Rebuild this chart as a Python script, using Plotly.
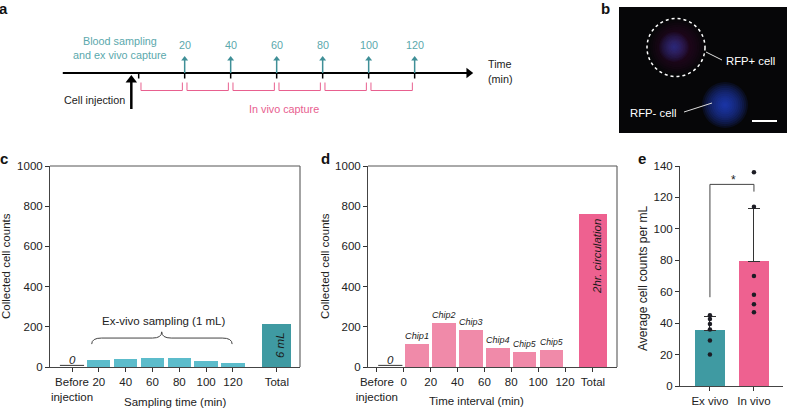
import plotly.graph_objects as go

W, H = 788, 408
FONT = "Liberation Sans"
TXT = "#222222"
TEAL_L, TEAL_D = "#5cbccb", "#3f9aa2"
PINK_L, PINK_D = "#f08aa9", "#ee6190"
TEAL_T = "#5aa8ac"
PINK_T = "#e8608f"

# panel a
capture_times = [20, 40, 60, 80, 100, 120]
interval_starts = [0, 20, 40, 60, 80, 100]
# panel c
c_before = 8
c_times = [20, 40, 60, 80, 100, 120]
c_values = [36, 40, 45, 43, 30, 20]
c_total_pos = 152.7
c_total = 212
c_ticktext = ["Before<br>injection", "20", "40", "60", "80", "100", "120", "Total"]
# panel d
d_before = 8
d_mid = [10, 30, 50, 70, 90, 110]
d_values = [114, 218, 182, 94, 76, 84]
d_labels = ["Chip1", "Chip2", "Chip3", "Chip4", "Chip5", "Chip5"]
d_total_pos = 140.8
d_total = 762
d_tickvals = [-20, 0, 20, 40, 60, 80, 100, 120, 140.8]
d_ticktext = ["Before<br>injection", "0", "20", "40", "60", "80", "100", "120", "Total"]
# panel e
e_groups = ["Ex vivo", "In vivo"]
e_means = [35.4, 79.3]
e_err = [8.6, 33.7]
e_ex_points = [20, 29, 36, 39.5, 42.6, 45]
e_in_points = [47, 52, 58, 70, 114, 136]


def dx(a, b):
    return [a / W, b / W]


def dy(top, bottom):
    return [1 - bottom / H, 1 - top / H]


fig = go.Figure()
anns = []
shapes = []


def T(text, x, y, xref="paper", yref="paper", size=11.5, color=TXT, **kw):
    if xref == "paper":
        x = x / W
    if yref == "paper":
        y = 1 - y / H
    anns.append(dict(text=text, x=x, y=y, xref=xref, yref=yref, showarrow=False,
                     font=dict(family=kw.pop("family", FONT), size=size, color=color,
                               style=kw.pop("style", "normal"), weight=kw.pop("weight", "normal")),
                     xanchor=kw.pop("xanchor", "center"), yanchor=kw.pop("yanchor", "middle"), **kw))


AX = dict(showgrid=False, zeroline=False, ticks="outside", ticklen=4, tickwidth=1,
          tickcolor="#333333", linecolor="#444444", linewidth=1, showline=True, automargin=False,
          tickangle=0, tickfont=dict(family=FONT, size=11.5, color=TXT))

# ------ panel c
fig.add_bar(x=c_times, y=c_values, width=17.4, marker=dict(color=TEAL_L, line_width=0), xaxis="x", yaxis="y")
fig.add_bar(x=[c_total_pos], y=[c_total], width=21.6, marker=dict(color=TEAL_D, line_width=0), xaxis="x", yaxis="y")
fig.add_scatter(x=[-9, 9], y=[c_before, c_before], mode="lines", line=dict(color="#333", width=1), xaxis="x", yaxis="y")
# ------ panel d
fig.add_bar(x=d_mid, y=d_values, width=17.4, marker=dict(color=PINK_L, line_width=0), xaxis="x2", yaxis="y2",
            text=d_labels, textposition="outside", cliponaxis=False,
            textfont=dict(family=FONT, size=10, style="italic", color=TXT))
fig.add_bar(x=[d_total_pos], y=[d_total], width=21, marker=dict(color=PINK_D, line_width=0), xaxis="x2", yaxis="y2")
fig.add_scatter(x=[-19, -1], y=[d_before, d_before], mode="lines", line=dict(color="#333", width=1), xaxis="x2", yaxis="y2")
# ------ panel e
fig.add_bar(x=[0], y=[e_means[0]], width=0.7, marker=dict(color=TEAL_D, line_width=0), xaxis="x3", yaxis="y3",
            error_y=dict(type="data", symmetric=False, array=[e_err[0]], arrayminus=[0], color="#333", thickness=1, width=6))
fig.add_bar(x=[1], y=[e_means[1]], width=0.7, marker=dict(color=PINK_D, line_width=0), xaxis="x3", yaxis="y3",
            error_y=dict(type="data", symmetric=False, array=[e_err[1]], arrayminus=[0], color="#333", thickness=1, width=6))
fig.add_scatter(x=[0] * len(e_ex_points), y=e_ex_points, mode="markers", marker=dict(color="#1c1c24", size=4.5), xaxis="x3", yaxis="y3")
fig.add_scatter(x=[1] * len(e_in_points), y=e_in_points, mode="markers", marker=dict(color="#1c1c24", size=4.5), xaxis="x3", yaxis="y3")
fig.add_scatter(x=[0, 0, 1, 1], y=[56.5, 128.3, 128.3, 123.7], mode="lines", line=dict(color="#444", width=1), xaxis="x3", yaxis="y3")

# ------ panel a (x axis in minutes, y axis in layout pixels)
AK = dict(mode="lines", xaxis="x4", yaxis="y4")
fig.add_scatter(x=[-33, 143], y=[73, 73], line=dict(color="black", width=2), **AK)
fig.add_scatter(x=[143.5], y=[73], mode="markers", marker=dict(symbol="triangle-right", color="black", size=9), xaxis="x4", yaxis="y4")
for t in [0] + capture_times:
    fig.add_scatter(x=[t, t], y=[73, 78.5], line=dict(color="black", width=1.5), **AK)
for t in capture_times:
    fig.add_scatter(x=[t, t], y=[73, 60], line=dict(color="#3f8f97", width=1.5), **AK)
    fig.add_scatter(x=[t], y=[59], mode="markers", marker=dict(symbol="triangle-up", color="#3f8f97", size=6), xaxis="x4", yaxis="y4")
    T(str(t), t, 45, xref="x4", yref="y4", color=TEAL_T, size=10.8)
for t in interval_starts:
    fig.add_scatter(x=[t + 1, t + 1, t + 19, t + 19], y=[82.5, 90.5, 90.5, 82.5], line=dict(color=PINK_T, width=1), **AK)
fig.add_scatter(x=[-3.2, -3.2], y=[109, 82], line=dict(color="black", width=2.5), **AK)
fig.add_scatter(x=[-3.2], y=[80], mode="markers", marker=dict(symbol="triangle-up", color="black", size=10), xaxis="x4", yaxis="y4")

# ------ panel b (layout pixels)
BX = dict(xref="x5", yref="y5")
shapes.append(dict(type="rect", x0=619, x1=787, y0=7, y1=133, fillcolor="#060608", line_width=0, layer="below", **BX))


def glow(cx, cy, r, rgb, alpha, n=12):
    for i in range(n):
        rr = r * (1 - i / n)
        shapes.append(dict(type="circle", x0=cx - rr, x1=cx + rr, y0=cy - rr, y1=cy + rr,
                           fillcolor=f"rgba({rgb},{alpha})", line_width=0, layer="below", **BX))


glow(677, 47, 27, "90,15,60", 0.06)
glow(674, 47, 15, "60,70,190", 0.07)
glow(725, 105, 23, "40,70,215", 0.11)
shapes.append(dict(type="circle", x0=647, x1=705, y0=18.5, y1=76.5, line=dict(color="white", width=1.5, dash="dot"), **BX))
shapes.append(dict(type="line", x0=706, x1=722, y0=52, y1=60, line=dict(color="#dddddd", width=1), **BX))
shapes.append(dict(type="line", x0=684, x1=712, y0=112, y1=103, line=dict(color="#dddddd", width=1), **BX))
shapes.append(dict(type="line", x0=752, x1=777, y0=121, y1=121, line=dict(color="white", width=2), **BX))

# brace in panel c
shapes.append(dict(type="path", xref="x", yref="y", line=dict(color="#444", width=1),
                   path="M14.7,114 Q14.7,144 22,144 L60,144 Q66.9,144 66.9,175 Q66.9,144 74,144 L112,144 Q119.4,144 119.4,114"))

# frames
for x0, x1 in [(50, 300), (368, 617)]:
    shapes.append(dict(type="line", xref="paper", yref="paper", x0=x0 / W, x1=x1 / W, y0=1 - 166 / H, y1=1 - 166 / H, line=dict(color="#555", width=1)))
    shapes.append(dict(type="line", xref="paper", yref="paper", x0=x1 / W, x1=x1 / W, y0=1 - 166 / H, y1=1 - 367 / H, line=dict(color="#666", width=1.2)))

# text
for s, x, y in [("a", 4, 8), ("b", 605, 8), ("c", 4, 159), ("d", 325, 159), ("e", 642, 159)]:
    T(s, x, y, size=15, color="#111", weight="bold")
T("Blood sampling", 120, 41, color=TEAL_T, size=10.8)
T("and ex vivo capture", 120, 55, color=TEAL_T, size=10.8)
T("Time", 500, 64, size=10.8)
T("(min)", 500, 79, size=10.8)
T("Cell injection", 94, 100, size=10.8)
T("In vivo capture", 284, 109, color=PINK_T, size=10.8)
T("RFP+ cell", 750, 61, color="white", size=11.3)
T("RFP- cell", 653, 113, color="white", size=11.3)
T("0", 72, 360, style="italic")
T("Ex-vivo sampling (1 mL)", 164, 321)
T("6 mL", 280, 345, style="italic", textangle=-90, color="#1a1a1a")
T("0", 390, 360, style="italic")
T("2hr. circulation", 597, 257, style="italic", textangle=-90, color="#1a1a1a")
T("*", 733, 180, size=12)
T("Collected cell counts", 6, 266, textangle=-90)
T("Collected cell counts", 325, 266, textangle=-90)
T("Average cell counts per mL", 643, 278, textangle=-90, size=12)
T("Sampling time (min)", 175, 402)
T("Time interval (min)", 476, 401)

fig.update_layout(
    width=W, height=H, autosize=False, margin=dict(l=0, r=0, t=0, b=0, pad=0),
    plot_bgcolor="white", paper_bgcolor="white", showlegend=False, bargap=0,
    barmode="overlay", annotations=anns, shapes=shapes,
    xaxis=dict(AX, domain=dx(50, 300), range=[-16.4, 170], tickmode="array", anchor="y",
               tickvals=[0] + c_times + [c_total_pos], ticktext=c_ticktext),
    yaxis=dict(AX, domain=dy(166, 367), range=[0, 1000], tickvals=[0, 200, 400, 600, 800, 1000], anchor="x"),
    xaxis2=dict(AX, domain=dx(368, 617), range=[-26.6, 158.7], tickmode="array", anchor="y2",
                tickvals=d_tickvals, ticktext=d_ticktext),
    yaxis2=dict(AX, domain=dy(166, 367), range=[0, 1000], tickvals=[0, 200, 400, 600, 800, 1000], anchor="x2"),
    xaxis3=dict(AX, domain=dx(680, 783), range=[-0.68, 1.66], tickmode="array", tickvals=[0, 1], ticktext=e_groups, anchor="y3"),
    yaxis3=dict(AX, domain=dy(166, 386), range=[0, 140], tickvals=[0, 20, 40, 60, 80, 100, 120, 140], anchor="x3"),
    xaxis4=dict(domain=dx(0, 560), range=[-60.3, 183.2], visible=False, anchor="y4", automargin=False),
    yaxis4=dict(domain=dy(0, 140), range=[140, 0], visible=False, anchor="x4", automargin=False),
    xaxis5=dict(domain=dx(610, 788), range=[610, 788], visible=False, anchor="y5", automargin=False),
    yaxis5=dict(domain=dy(0, 140), range=[140, 0], visible=False, anchor="x5", automargin=False),
)
fig.write_html("out.html", config=dict(displayModeBar=False),
               post_script="document.documentElement.style.overflow='hidden';document.body.style.margin='0';window.dispatchEvent(new Event('resize'));")
